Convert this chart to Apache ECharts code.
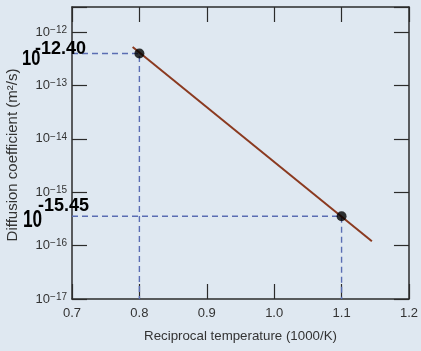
<!DOCTYPE html>
<html>
<head>
<meta charset="utf-8">
<script src="https://cdn.jsdelivr.net/npm/echarts@6/dist/echarts.min.js"></script>
<style>
html,body{margin:0;padding:0;background:#dfe8f1;}
#chart{width:421px;height:351px;}
</style>
</head>
<body>
<div id="chart"></div>
<script>
// Data (y values are log10 of diffusion coefficient, m^2/s)
const xMin = 0.7, xMax = 1.2, xStep = 0.1;
const yMinExp = -17, yMaxExp = -11.53, yStep = 1;
const lineX = [0.79, 1.145];
const lineLogD = [-12.28, -15.92];
const pointX = [0.8, 1.1];
const pointLogD = [-12.40, -15.45];
const annotationText = ['-12.40', '-15.45'];
const xAxisName = 'Reciprocal temperature (1000/K)';
const yAxisName = 'Diffusion coefficient (m\u00B2/s)';

const axisColor = '#2b2b2b';
const dashColor = '#5a6db3';

const dashSeries = [];
pointX.forEach(function (x, i) {
  dashSeries.push({
    type: 'line', xAxisIndex: 0, yAxisIndex: 0, silent: true, symbol: 'none', z: 1,
    data: [[xMin, pointLogD[i]], [x, pointLogD[i]], [x, yMinExp]],
    lineStyle: {color: dashColor, width: 1.4, type: [6, 4]}
  });
});

function yLabel(v) {
  if (Math.abs(v - Math.round(v)) > 1e-6) return '';
  return '{b|10}{s|\u2212' + Math.abs(Math.round(v)) + '}';
}

const tickCommon = {show: true, inside: true, length: 15, lineStyle: {color: axisColor, width: 1.2}};
const lineCommon = {show: true, onZero: false, lineStyle: {color: axisColor, width: 1.5}};
const hand = '"Liberation Sans"';

const chart = echarts.init(document.getElementById('chart'));
chart.setOption({
  backgroundColor: '#dfe8f1',
  animation: false,
  grid: {left: 72, right: 9, top: 7, bottom: 52},
  xAxis: [{
    type: 'value', min: xMin, max: xMax, interval: xStep, position: 'bottom',
    axisLine: lineCommon, axisTick: tickCommon, splitLine: {show: false},
    axisLabel: {color: '#333', fontSize: 13, fontFamily: 'Liberation Sans', margin: 8,
      formatter: function (v) { return v.toFixed(1); }},
    name: xAxisName, nameLocation: 'middle', nameGap: 31,
    nameTextStyle: {color: '#333', fontSize: 13.3, fontFamily: 'Liberation Sans'}
  }, {
    type: 'value', min: xMin, max: xMax, interval: xStep, position: 'top',
    axisLine: lineCommon, axisTick: tickCommon, splitLine: {show: false},
    axisLabel: {show: false}
  }],
  yAxis: [{
    type: 'value', min: yMinExp, max: yMaxExp, interval: yStep, position: 'left',
    axisLine: lineCommon, axisTick: tickCommon, splitLine: {show: false},
    axisLabel: {formatter: yLabel, margin: 5, color: '#333',
      rich: {
        b: {fontSize: 13, fontFamily: 'Liberation Sans', color: '#333', lineHeight: 14},
        s: {fontSize: 10, fontFamily: 'Liberation Sans', color: '#333', verticalAlign: 'top', lineHeight: 8}
      }}
  }, {
    type: 'value', min: yMinExp, max: yMaxExp, interval: yStep, position: 'right',
    axisLine: lineCommon, axisTick: tickCommon, splitLine: {show: false},
    axisLabel: {show: false}
  }],
  series: dashSeries.concat([{
    type: 'line', xAxisIndex: 0, yAxisIndex: 0, symbol: 'none', z: 2,
    data: lineX.map(function (x, i) { return [x, lineLogD[i]]; }),
    lineStyle: {color: '#8b3a20', width: 2}
  }, {
    type: 'scatter', xAxisIndex: 0, yAxisIndex: 0, z: 3,
    data: pointX.map(function (x, i) { return [x, pointLogD[i]]; }),
    symbolSize: 10, itemStyle: {color: '#000'}
  }]),
  graphic: [
    {type: 'text', x: 13, y: 155, rotation: Math.PI / 2, silent: true,
      style: {text: yAxisName, fill: '#333', font: '15px "Liberation Sans"', align: 'center', verticalAlign: 'middle'}},
    {type: 'text', x: 22, y: 48, scaleX: 0.75, z: 10, silent: true, style: {text: '10', fill: '#000', font: 'bold 22px ' + hand}},
    {type: 'text', x: 35, y: 40, z: 10, silent: true, style: {text: annotationText[0], fill: '#000', font: 'bold 18px ' + hand}},
    {type: 'text', x: 23, y: 209, scaleX: 0.75, z: 10, silent: true, style: {text: '10', fill: '#000', font: 'bold 23px ' + hand}},
    {type: 'text', x: 38, y: 197, z: 10, silent: true, style: {text: annotationText[1], fill: '#000', font: 'bold 18px ' + hand}}
  ]
});
</script>
</body>
</html>
